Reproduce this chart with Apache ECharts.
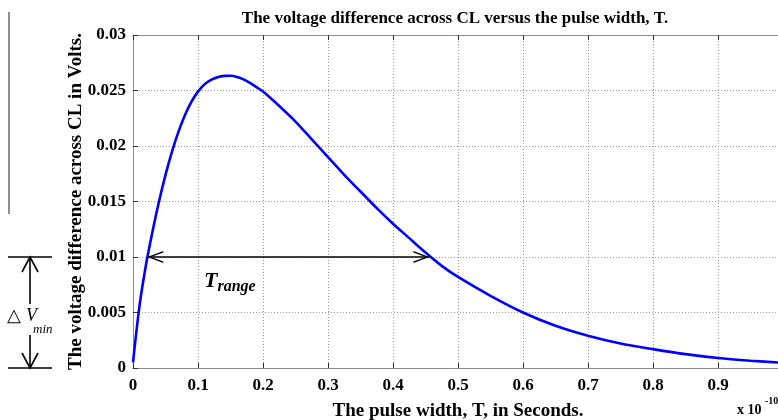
<!DOCTYPE html>
<html><head><meta charset="utf-8">
<script src="https://cdn.jsdelivr.net/npm/echarts@6/dist/echarts.min.js"></script>
<style>html,body{margin:0;padding:0;background:#fff}#c{width:778px;height:420px}</style>
</head><body><div id="c"></div>
<script>
// Data (T in units of 1e-10 s, V in volts)
const pulseWidth = [0, 0.01, 0.02, 0.03, 0.04, 0.05, 0.06, 0.07, 0.08, 0.09, 0.10, 0.11, 0.12, 0.13, 0.14, 0.15, 0.16, 0.17, 0.18, 0.19, 0.20, 0.225, 0.25, 0.275, 0.30, 0.325, 0.35, 0.375, 0.40, 0.425, 0.45, 0.475, 0.50, 0.55, 0.60, 0.65, 0.70, 0.75, 0.80, 0.85, 0.90, 0.95, 1.0];
const voltage = [0.0005, 0.0056, 0.0093, 0.0123, 0.0150, 0.0174, 0.0195, 0.0213, 0.0228, 0.0240, 0.0249, 0.02555, 0.02595, 0.0262, 0.02632, 0.02633, 0.02622, 0.0260, 0.02568, 0.0253, 0.0249, 0.0236, 0.0222, 0.0206, 0.0190, 0.0174, 0.0159, 0.0144, 0.0130, 0.0117, 0.0104, 0.0092, 0.0082, 0.0065, 0.0050, 0.0038, 0.0029, 0.0022, 0.0017, 0.00125, 0.0009, 0.00066, 0.00047];
const xTicks = ['0', '0.1', '0.2', '0.3', '0.4', '0.5', '0.6', '0.7', '0.8', '0.9', '1'];
const yTicks = ['0', '0.005', '0.01', '0.015', '0.02', '0.025', '0.03'];
const rangeStart = [0.022, 0.01];
const rangeEnd = [0.456, 0.01];
const rangeLabelAt = [0.149, 0.0078];
const deltaVLevels = [0.01, 0];

const FONT = '"Liberation Serif", "Times New Roman", serif';
const chart = echarts.init(document.getElementById('c'), null, {renderer: 'canvas'});
// open chevron whose tip sits at the centre of its bounding box
const chevron = 'path://M5,0 L5.01,0 L5,0 Z M5,10 L10,20 L8.7,20 L5,12.4 L1.3,20 L0,20 Z';

const option = {
  animation: false,
  backgroundColor: '#fff',
  title: {
    text: 'The voltage difference across CL versus the pulse width, T.',
    left: 450, top: 5, textAlign: 'center',
    textStyle: {fontFamily: FONT, fontWeight: 'bold', fontSize: 17, color: '#000'}
  },
  grid: {left: 133, top: 35, width: 650, height: 333, containLabel: false, outerBoundsMode: 'none'},
  xAxis: [{
    type: 'value', min: 0, max: 1, interval: 0.1, position: 'bottom',
    name: 'The pulse width, T, in Seconds.', nameLocation: 'middle', nameGap: 34, nameMoveOverlap: false,
    nameTextStyle: {fontFamily: FONT, fontWeight: 'bold', fontSize: 19, color: '#000'},
    axisLine: {show: true, lineStyle: {color: '#8c8c8c', width: 1}},
    axisTick: {show: true, inside: true, length: 5, lineStyle: {color: '#333'}},
    axisLabel: {fontFamily: FONT, fontWeight: 'bold', fontSize: 17, color: '#000', margin: 9,
      showMaxLabel: false,
      formatter: v => xTicks[Math.round(v * 10)]},
    splitLine: {show: true, lineStyle: {type: [1, 2], color: '#9a9a9a', width: 1}}
  }, {
    type: 'value', min: 0, max: 1, interval: 0.1, position: 'top',
    axisLine: {show: true, lineStyle: {color: '#8c8c8c', width: 1}},
    axisTick: {show: true, inside: true, length: 5, lineStyle: {color: '#333'}},
    axisLabel: {show: false}, splitLine: {show: false}
  }],
  yAxis: [{
    type: 'value', min: 0, max: 0.03, interval: 0.005,
    name: 'The voltage difference across CL in Volts.', nameLocation: 'middle', nameGap: 47, nameMoveOverlap: false,
    nameTextStyle: {fontFamily: FONT, fontWeight: 'bold', fontSize: 19, color: '#000'},
    axisLine: {show: true, lineStyle: {color: '#8c8c8c', width: 1}},
    axisTick: {show: true, inside: true, length: 5, lineStyle: {color: '#333'}},
    axisLabel: {fontFamily: FONT, fontWeight: 'bold', fontSize: 17, color: '#000', margin: 7,
      formatter: v => yTicks[Math.round(v / 0.005)]},
    splitLine: {show: true, lineStyle: {type: [1, 2], color: '#9a9a9a', width: 1}}
  }],
  series: [{
    type: 'line',
    data: pulseWidth.map((t, i) => [t, voltage[i]]),
    showSymbol: false, smooth: 0.3,
    lineStyle: {color: '#0000ff', width: 2.6},
    itemStyle: {color: '#0000ff'},
    markLine: {
      silent: true, animation: false,
      symbol: [chevron, chevron], symbolSize: [12, 32],
      lineStyle: {color: '#000', width: 1.6, type: 'solid'},
      itemStyle: {color: '#000'},
      label: {show: false},
      data: [[{coord: rangeStart}, {coord: rangeEnd}]]
    },
    markPoint: {
      silent: true, animation: false, symbol: 'circle', symbolSize: 0,
      label: {
        show: true, position: 'inside',
        formatter: '{t|T}{s|range}',
        rich: {
          t: {fontFamily: FONT, fontWeight: 'bold', fontStyle: 'italic', fontSize: 22, color: '#000'},
          s: {fontFamily: FONT, fontWeight: 'bold', fontStyle: 'italic', fontSize: 16, color: '#000', padding: [11, 0, 0, 0]}
        }
      },
      data: [{coord: rangeLabelAt}]
    }
  }]
};
chart.setOption(option);

// Left-side ΔVmin annotation aligned to the data levels 0.01 and 0
const yTop = chart.convertToPixel({gridIndex: 0}, [0, deltaVLevels[0]])[1];
const yBot = chart.convertToPixel({gridIndex: 0}, [0, deltaVLevels[1]])[1];
const ax = 30;
const S = {stroke: '#000', lineWidth: 1.6, fill: null};
chart.setOption({
  graphic: [
    {type: 'line', shape: {x1: 9, y1: 12, x2: 9, y2: 214}, style: {stroke: '#444', lineWidth: 1.2}},
    {type: 'line', shape: {x1: 8, y1: yTop, x2: 52, y2: yTop}, style: S},
    {type: 'line', shape: {x1: 8, y1: yBot, x2: 52, y2: yBot}, style: S},
    {type: 'line', shape: {x1: ax, y1: yTop, x2: ax, y2: yTop + 47}, style: S},
    {type: 'line', shape: {x1: ax, y1: yBot - 33, x2: ax, y2: yBot}, style: S},
    {type: 'polyline', shape: {points: [[ax - 8, yTop + 15], [ax, yTop], [ax + 8, yTop + 15]]}, style: S},
    {type: 'polyline', shape: {points: [[ax - 8, yBot - 15], [ax, yBot], [ax + 8, yBot - 15]]}, style: S},
    {type: 'text', left: 7, top: yTop + 50, style: {
      text: '{d|△}{v|V}',
      rich: {
        d: {fontFamily: FONT, fontSize: 18, fill: '#000', padding: [0, 5, 0, 0]},
        v: {fontFamily: FONT, fontStyle: 'italic', fontSize: 18, fill: '#000'}
      }
    }},
    {type: 'text', left: 33, top: yTop + 66, style: {
      text: 'min', fontFamily: FONT, fontStyle: 'italic', fontSize: 13, fill: '#000'
    }},
    {type: 'text', left: 737, top: 403, style: {
      text: 'x 10', fontFamily: FONT, fontWeight: 'bold', fontSize: 14, fill: '#000'
    }},
    {type: 'text', left: 765, top: 396, style: {
      text: '-10', fontFamily: FONT, fontWeight: 'bold', fontSize: 10, fill: '#000'
    }}
  ]
});
</script>
</body></html>
